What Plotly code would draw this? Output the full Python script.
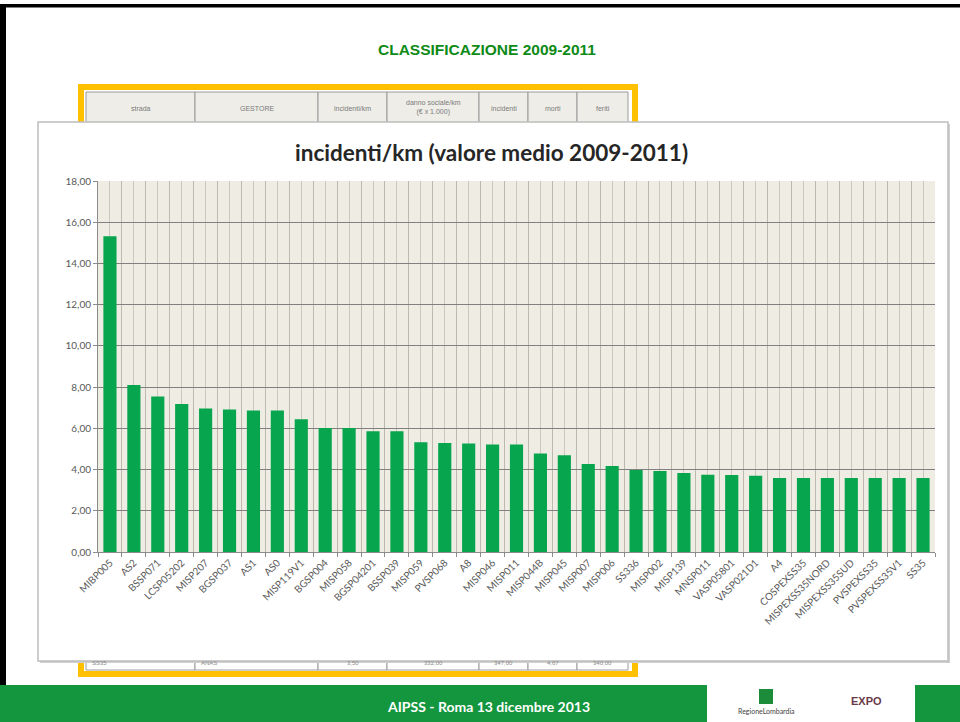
import plotly.graph_objects as go

# ---- data ----
strade = ["MIBP005", "AS2", "BSSP071", "LCSP05202", "MISP207", "BGSP037", "AS1", "AS0",
          "MISP119V1", "BGSP004", "MISP058", "BGSP04201", "BSSP039", "MISP059", "PVSP068",
          "A8", "MISP046", "MISP011", "MISP044B", "MISP045", "MISP007", "MISP006", "SS336",
          "MISP002", "MISP139", "MNSP011", "VASP05801", "VASP021D1", "A4", "COSPEXSS35",
          "MISPEXSS35NORD", "MISPEXSS35SUD", "PVSPEXSS35", "PVSPEXSS35V1", "SS35"]
incidenti_km = [15.32, 8.10, 7.54, 7.18, 6.96, 6.91, 6.86, 6.86,
                6.44, 6.02, 6.02, 5.86, 5.86, 5.33, 5.29,
                5.26, 5.21, 5.21, 4.78, 4.70, 4.27, 4.17, 3.98,
                3.93, 3.83, 3.75, 3.73, 3.70, 3.59, 3.59,
                3.59, 3.59, 3.59, 3.59, 3.59]
y_ticks = [0, 2, 4, 6, 8, 10, 12, 14, 16, 18]
table_header = ["strada", "GESTORE", "incidenti/km", "danno sociale/km<br>(€ x 1.000)",
                "incidenti", "morti", "feriti"]
table_last_row = ["SS35", "ANAS", "3,50", "332,00", "347,00", "4,67", "340,00"]

W, H = 960, 722
def px(x): return x / W
def py(y): return 1 - y / H

# plot area in pixels
PL, PR, PT, PB = 98, 935, 181, 552

positions = list(range(len(strade)))

fig = go.Figure()
fig.add_trace(go.Bar(
    x=positions, y=incidenti_km,
    marker=dict(color="#07A54E", line=dict(width=0)),
    width=0.55, hoverinfo="x+y",
))

shapes = []
# slide borders
shapes.append(dict(type="rect", xref="paper", yref="paper", x0=px(0), x1=px(960), y0=py(4), y1=py(7.5),
                   fillcolor="#000000", line=dict(width=0), layer="below"))
shapes.append(dict(type="rect", xref="paper", yref="paper", x0=px(0), x1=px(6), y0=py(4), y1=py(686),
                   fillcolor="#000000", line=dict(width=0), layer="below"))
# bottom green band
shapes.append(dict(type="rect", xref="paper", yref="paper", x0=px(0), x1=px(960), y0=py(685), y1=py(722),
                   fillcolor="#13963D", line=dict(width=0), layer="below"))
shapes.append(dict(type="rect", xref="paper", yref="paper", x0=px(707), x1=px(915), y0=py(685), y1=py(722),
                   fillcolor="#FFFFFF", line=dict(width=0), layer="below"))
# Lombardia logo square
shapes.append(dict(type="rect", xref="paper", yref="paper", x0=px(759), x1=px(773), y0=py(689), y1=py(704),
                   fillcolor="#1C8C3A", line=dict(width=0), layer="below"))
# orange table frame
shapes.append(dict(type="rect", xref="paper", yref="paper", x0=px(78), x1=px(638), y0=py(84), y1=py(677),
                   fillcolor="#FFC000", line=dict(width=0), layer="below"))
shapes.append(dict(type="rect", xref="paper", yref="paper", x0=px(84), x1=px(632), y0=py(90), y1=py(671),
                   fillcolor="#FFFFFF", line=dict(width=0), layer="below"))
dividers = [86, 195, 318, 387, 479, 528, 577, 628]
for i in range(len(dividers) - 1):
    shapes.append(dict(type="rect", xref="paper", yref="paper", x0=px(dividers[i]), x1=px(dividers[i + 1]),
                       y0=py(92), y1=py(124), fillcolor="#EEEDE8",
                       line=dict(color="#9A9A9A", width=1), layer="below"))
    shapes.append(dict(type="rect", xref="paper", yref="paper", x0=px(dividers[i]), x1=px(dividers[i + 1]),
                       y0=py(656), y1=py(670), fillcolor="#FFFFFF",
                       line=dict(color="#9A9A9A", width=1), layer="below"))
# chart box shadow + box
shapes.append(dict(type="rect", xref="paper", yref="paper", x0=px(40), x1=px(950), y0=py(124), y1=py(663),
                   fillcolor="#D0D0D0", line=dict(width=0), layer="below"))
shapes.append(dict(type="rect", xref="paper", yref="paper", x0=px(38), x1=px(948), y0=py(122), y1=py(661),
                   fillcolor="#FFFFFF", line=dict(color="#BDBDBD", width=1.5), layer="below"))
# plot area background
shapes.append(dict(type="rect", xref="paper", yref="paper", x0=px(PL), x1=px(PR), y0=py(PB), y1=py(PT),
                   fillcolor="#EEECE3", line=dict(width=0), layer="below"))

annotations = []
annotations.append(dict(text="<b>CLASSIFICAZIONE 2009-2011</b>", xref="paper", yref="paper",
                        x=px(487), y=py(49), showarrow=False, xanchor="center", yanchor="middle",
                        font=dict(family="Liberation Sans", size=15.5, color="#0E8A16")))
annotations.append(dict(text="<b>incidenti/km (valore medio 2009-2011)</b>", xref="paper", yref="paper",
                        x=px(492), y=py(152), showarrow=False, xanchor="center", yanchor="middle",
                        font=dict(family="Lato", size=22.5, color="#262626")))
annotations.append(dict(text="<b>AIPSS - Roma 13 dicembre 2013</b>", xref="paper", yref="paper",
                        x=px(488), y=py(706), showarrow=False, xanchor="center", yanchor="middle",
                        font=dict(family="Lato", size=14, color="#FFFFFF")))
annotations.append(dict(text="RegioneLombardia", xref="paper", yref="paper",
                        x=px(766), y=py(711), showarrow=False, xanchor="center", yanchor="middle",
                        font=dict(family="Lato", size=7, color="#444444")))
annotations.append(dict(text="<b>EXPO</b>", xref="paper", yref="paper",
                        x=px(866), y=py(701), showarrow=False, xanchor="center", yanchor="middle",
                        font=dict(family="Liberation Sans", size=11, color="#6A3A4A")))
for i, txt in enumerate(table_header):
    annotations.append(dict(text=txt, xref="paper", yref="paper",
                            x=px((dividers[i] + dividers[i + 1]) / 2), y=py(108 if i != 3 else 107),
                            showarrow=False, xanchor="center", yanchor="middle",
                            font=dict(family="Liberation Sans", size=7, color="#7A7A7A")))
for i, txt in enumerate(table_last_row):
    al = "left" if i < 2 else "center"
    xx = dividers[i] + 4 if i < 2 else (dividers[i] + dividers[i + 1]) / 2
    annotations.append(dict(text=txt, xref="paper", yref="paper",
                            x=px(xx), y=py(663), showarrow=False, xanchor=al, yanchor="middle",
                            font=dict(family="Liberation Sans", size=6, color="#8A8A8A")))

fig.update_layout(
    width=W, height=H,
    autosize=False,
    margin=dict(l=0, r=0, t=0, b=0, pad=0),
    paper_bgcolor="#FFFFFF",
    plot_bgcolor="rgba(0,0,0,0)",
    separators=",.",
    showlegend=False,
    bargap=0.45,
    shapes=shapes,
    annotations=annotations,
    xaxis=dict(
        domain=[px(PL), px(PR)],
        automargin=False,
        range=[-0.5, len(strade) - 0.5],
        tickmode="array", tickvals=positions, ticktext=strade,
        tickangle=-45,
        tickfont=dict(family="Lato", size=10, color="#595959"),
        showgrid=True, gridcolor="#CBC7BC", gridwidth=1,
        minor=dict(tick0=-0.5, dtick=1, showgrid=True, gridcolor="#BDB9AE", gridwidth=1,
                   ticks="outside", ticklen=4, tickcolor="#8C8C8C"),
        ticks="", showline=True, linecolor="#8C8C8C", linewidth=1,
        zeroline=False, fixedrange=True,
    ),
    yaxis=dict(
        domain=[py(PB), py(PT)],
        automargin=False,
        range=[0, 18],
        tickmode="array", tickvals=y_ticks, tickformat=".2f",
        tickfont=dict(family="Lato", size=10, color="#595959"),
        showgrid=True, gridcolor="#808080", gridwidth=1,
        ticks="outside", ticklen=4, tickcolor="#8C8C8C",
        showline=True, linecolor="#8C8C8C", linewidth=1,
        zeroline=False, fixedrange=True,
    ),
)

fig.write_html("out.html", config={"displayModeBar": False},
               post_script="document.body.style.margin='0';document.body.style.overflow='hidden';")
